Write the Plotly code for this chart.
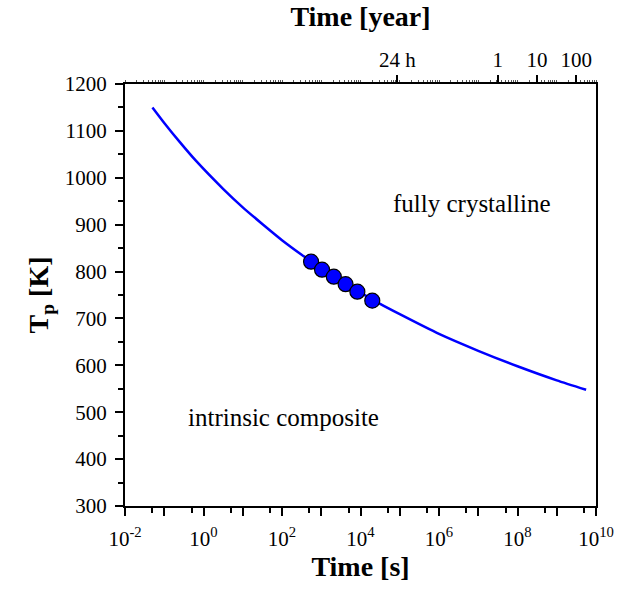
import plotly.graph_objects as go

# Curve (time in s, peak temperature in K)
curve_t = [0.05, 0.1, 0.25, 0.63, 3.2, 10, 32, 100, 316, 1000, 3160, 1.0e4, 3.16e4,
           1.0e5, 1.0e6, 1.0e7, 1.0e8, 1.0e9, 5.6e9]
curve_T = [1150, 1117, 1076, 1037, 976, 937, 901, 867, 836, 807, 780, 755, 731,
           709, 667, 631, 598, 568, 548]

# Measured points
pts_t = [550, 1047, 2089, 4169, 8318, 19950]
pts_T = [821, 804, 789, 773, 757, 738]

# Bottom axis ticks
x_major = [10.0 ** k for k in range(-2, 11)]
x_major_text = ["10<sup>%d</sup>" % k if k % 2 == 0 else "" for k in range(-2, 11)]
x_minor = [5 * 10.0 ** k for k in range(-2, 10)]

# Top axis ticks (seconds)
top_vals = [86400, 3.156e7, 3.156e8, 3.156e9]
top_text = ["24 h", "1", "10", "100"]

y_vals = list(range(300, 1201, 100))

FONT = "Liberation Serif"

fig = go.Figure()
fig.add_trace(go.Scatter(x=curve_t, y=curve_T, mode="lines",
                         line=dict(color="#0000ff", width=2.5, shape="spline", smoothing=0.6),
                         showlegend=False))
fig.add_trace(go.Scatter(x=pts_t, y=pts_T, mode="markers",
                         marker=dict(color="#0000ff", size=15, line=dict(color="black", width=1.2)),
                         showlegend=False))
# invisible trace to activate the top axis
fig.add_trace(go.Scatter(x=[top_vals[0]], y=[300], xaxis="x2", mode="markers",
                         marker=dict(opacity=0), showlegend=False, hoverinfo="skip"))

fig.add_annotation(x=6.85, y=946, text="fully crystalline", showarrow=False,
                   font=dict(family=FONT, size=25, color="black"))
fig.add_annotation(x=2.03, y=489, text="intrinsic composite", showarrow=False,
                   font=dict(family=FONT, size=25, color="black"))

fig.update_layout(
    width=629, height=590,
    margin=dict(l=125, r=33, t=84, b=84),
    plot_bgcolor="white", paper_bgcolor="white",
    font=dict(family=FONT, size=20, color="black"),
    xaxis=dict(
        type="log", range=[-2, 10],
        tickmode="array", tickvals=x_major, ticktext=x_major_text,
        ticks="outside", ticklen=8, tickwidth=2, tickcolor="black",
        ticklabelstandoff=5,
        minor=dict(tickmode="array", tickvals=x_minor, ticks="outside", ticklen=5,
                   tickwidth=2, tickcolor="black", showgrid=False),
        showline=True, linewidth=2, linecolor="black", mirror=False,
        showgrid=False, zeroline=False,
        tickfont=dict(family=FONT, size=21),
        title=dict(text="<b>Time [s]</b>", font=dict(family=FONT, size=28), standoff=1),
    ),
    xaxis2=dict(
        type="log", range=[-2, 10], overlaying="x", side="top", anchor="y",
        tickmode="array", tickvals=top_vals, ticktext=top_text,
        ticks="outside", ticklen=7, tickwidth=1.5, tickcolor="black",
        minor=dict(ticks="outside", ticklen=2, tickwidth=1, tickcolor="#555555",
                   dtick="D1", showgrid=False),
        showline=True, linewidth=2, linecolor="black",
        showgrid=False, zeroline=False,
        tickfont=dict(family=FONT, size=21),
        title=dict(text="<b>Time [year]</b>", font=dict(family=FONT, size=28), standoff=13),
    ),
    yaxis=dict(
        range=[300, 1200],
        tickmode="array", tickvals=y_vals,
        ticks="outside", ticklen=8, tickwidth=2, tickcolor="black",
        ticklabelstandoff=4,
        minor=dict(dtick=50, ticks="outside", ticklen=5, tickwidth=2,
                   tickcolor="black", showgrid=False),
        showline=True, linewidth=2, linecolor="black", mirror=True,
        showgrid=False, zeroline=False,
        tickfont=dict(family=FONT, size=21),
        title=dict(text="<b>T<sub>p</sub> [K]</b>", font=dict(family=FONT, size=28), standoff=8),
    ),
)

fig.write_html("out.html")
